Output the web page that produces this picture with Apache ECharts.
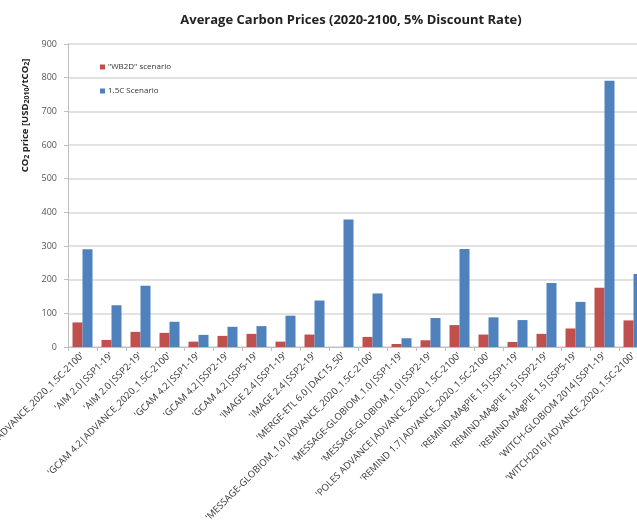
<!DOCTYPE html>
<html>
<head>
<meta charset="utf-8">
<script src="https://cdn.jsdelivr.net/npm/echarts@6/dist/echarts.min.js"></script>
<style>html,body{margin:0;padding:0;background:#fff;}#c{width:637px;height:521px;}</style>
</head>
<body>
<div id="c"></div>
<script>
const categories = [
  "'AIM 2.0|ADVANCE_2020_1.5C-2100'",
  "'AIM 2.0|SSP1-19'",
  "'AIM 2.0|SSP2-19'",
  "'GCAM 4.2|ADVANCE_2020_1.5C-2100'",
  "'GCAM 4.2|SSP1-19'",
  "'GCAM 4.2|SSP2-19'",
  "'GCAM 4.2|SSP5-19'",
  "'IMAGE 2.4|SSP1-19'",
  "'IMAGE 2.4|SSP2-19'",
  "'MERGE-ETL 6.0|DAC15_50'",
  "'MESSAGE-GLOBIOM_1.0|ADVANCE_2020_1.5C-2100'",
  "'MESSAGE-GLOBIOM_1.0|SSP1-19'",
  "'MESSAGE-GLOBIOM_1.0|SSP2-19'",
  "'POLES ADVANCE|ADVANCE_2020_1.5C-2100'",
  "'REMIND 1.7|ADVANCE_2020_1.5C-2100'",
  "'REMIND-MAgPIE 1.5|SSP1-19'",
  "'REMIND-MAgPIE 1.5|SSP2-19'",
  "'REMIND-MAgPIE 1.5|SSP5-19'",
  "'WITCH-GLOBIOM 2014|SSP1-19'",
  "'WITCH2016|ADVANCE_2020_1.5C-2100'"
];
const wb2d = [73, 21, 45, 42, 16, 33, 39, 16, 37, null, 30, 9, 20, 65, 37, 15, 39, 55, 176, 79];
const sc15 = [290, 124, 182, 75, 36, 60, 62, 93, 138, 379, 159, 26, 86, 291, 88, 80, 190, 134, 791, 217];
const seriesNames = ['"WB2D" scenario', '1.5C Scenario'];
const yMin = 0, yMax = 900, yStep = 100;

const chart = echarts.init(document.getElementById('c'));
chart.setOption({
  animation: false,
  backgroundColor: '#fff',
  title: {
    text: 'Average Carbon Prices (2020-2100, 5% Discount Rate)',
    left: 346, top: 9, textAlign: 'center',
    textStyle: { fontFamily: 'Open Sans', fontWeight: 'bold', fontSize: 13, color: '#222' }
  },
  legend: {
    orient: 'vertical', left: 95, top: 58, itemWidth: 5, itemHeight: 5, itemGap: 16,
    icon: 'rect',
    textStyle: { fontFamily: 'Open Sans', fontSize: 8, color: '#333', padding: [0,0,0,-2] },
    data: seriesNames
  },
  grid: { left: 68, top: 44, width: 580, bottom: 174, containLabel: false, outerBoundsMode: 'none' },
  xAxis: {
    type: 'category', data: categories,
    axisLine: { lineStyle: { color: '#bfbfbf' } },
    axisTick: { show: true, alignWithLabel: false, length: 4, lineStyle: { color: '#bfbfbf' } },
    axisLabel: { interval: 0, rotate: 45, fontFamily: 'Open Sans', fontSize: 9.5, color: '#333', margin: 7 }
  },
  yAxis: {
    type: 'value', min: yMin, max: yMax, interval: yStep,
    name: '{n|CO}{s|2}{n| price [USD}{s|2010}{n|/tCO}{s|2}{n|]}',
    nameLocation: 'middle', nameRotate: 90, nameGap: 31,
    nameTextStyle: {
      padding: [0, 0, 0, 160],
      rich: {
        n: { fontFamily: 'Open Sans', fontWeight: 'bold', fontSize: 9.5, color: '#222' },
        s: { fontFamily: 'Open Sans', fontWeight: 'bold', fontSize: 7, color: '#222', verticalAlign: 'bottom', padding: [4,0,0,0] }
      }
    },
    axisLine: { show: true, lineStyle: { color: '#bfbfbf' } },
    axisTick: { show: true, length: 4, lineStyle: { color: '#bfbfbf' } },
    axisLabel: { fontFamily: 'Open Sans', fontSize: 9, color: '#555', margin: 11 },
    splitLine: { lineStyle: { color: '#d9d9d9', width: 1.5 } }
  },
  series: [
    { name: seriesNames[0], type: 'bar', data: wb2d, barWidth: 10, barGap: '0%', itemStyle: { color: '#C0504D' } },
    { name: seriesNames[1], type: 'bar', data: sc15, barWidth: 10, barGap: '0%', itemStyle: { color: '#4F81BD' } }
  ]
});
</script>
</body>
</html>
